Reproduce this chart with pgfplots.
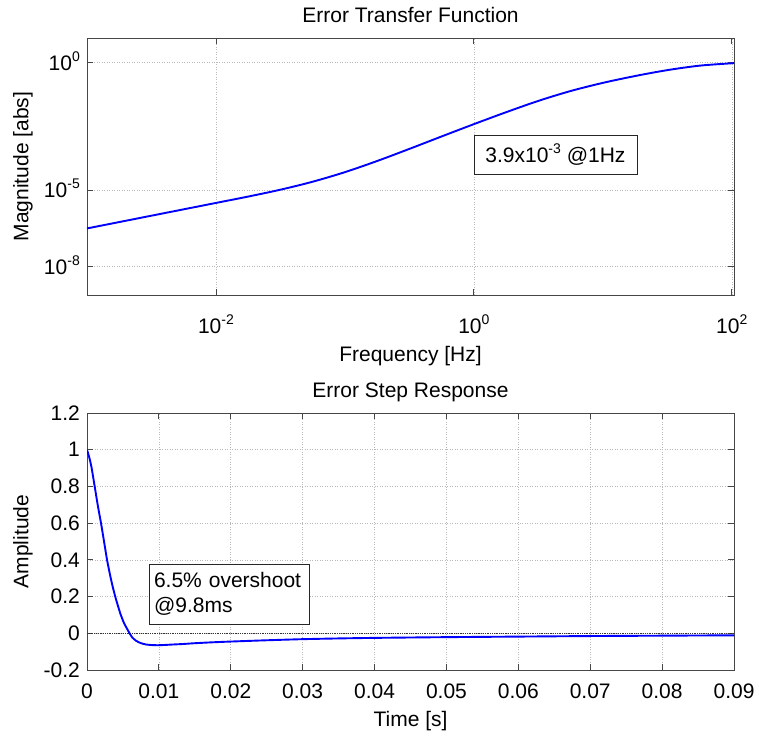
\documentclass[border=0pt]{standalone}
\usepackage{fontspec}
\setmainfont{Liberation Sans}
\usepackage{pgfplots}
\pgfplotsset{compat=1.18}
\definecolor{axgray}{RGB}{70,70,70}
\definecolor{gridgray}{RGB}{185,185,185}
\newcommand\sps[1]{\raisebox{0.42em}{\fontsize{14}{16}\selectfont #1}}

\pgfplotsset{
 matlab/.style={
  scale only axis, width=647pt, height=257pt,
  axis line style={axgray, line width=0.9pt},
  tick style={axgray, line width=0.9pt},
  major tick length=6pt,
  tick align=inside,
  tick pos=both,
  xticklabel pos=lower, yticklabel pos=left,
  grid=major,
  major grid style={gridgray, line width=0.6pt, dash pattern=on 1pt off 1.5pt},
  title style={at={(axis description cs:0.5,1.037)}, anchor=base},
  every axis y label/.style={at={(axis description cs:-0.0989,0.5)}, rotate=90, anchor=center},
 }
}

\begin{document}
\fontsize{21}{25}\selectfont
\begin{tikzpicture}
\begin{axis}[matlab, xmode=log, ymode=log,
  at={(87pt,-295pt)}, anchor=south west,
  xmin=1e-3, xmax=104, ymin=7.8e-10, ymax=9.3,
  xtick={1e-2,1,1e2}, xticklabels={10\sps{-2},10\sps{0},10\sps{2}},
  ytick={1e-8,1e-5,1}, yticklabels={10\sps{-8},10\sps{-5},10\sps{0}},
  xminorticks=false, yminorticks=false,
  xticklabel style={anchor=base, yshift=-38pt},
  yticklabel style={anchor=base east, yshift=-7.5pt},
  title={Error Transfer Function},
  xlabel={Frequency [Hz]}, ylabel={Magnitude [abs]},
  xlabel style={at={(axis description cs:0.5,-0.2595)}, anchor=base},
]
\addplot[blue, line width=1.9pt, smooth, tension=0.5] coordinates {
(0.001,3.177e-7) (0.001778,5.649e-7) (0.003162,1.005e-6) (0.005623,1.786e-6)
(0.01,3.177e-6) (0.01778,5.649e-6) (0.03162,1.050e-5) (0.05623,2.158e-5)
(0.1,5.117e-5) (0.1778,1.400e-4) (0.3162,4.178e-4) (0.5623,1.285e-3)
(1,3.9e-3) (1.778,0.01146) (3.162,0.03184) (5.623,0.07762)
(10,0.1618) (17.78,0.3006) (31.62,0.5117) (56.23,0.7656) (100,0.9506) (104,0.956)
};
\node[draw=black!85, line width=0.8pt, fill=white, minimum width=163pt, minimum height=39pt, inner sep=0pt]
  at (rel axis cs:0.724,0.547) {3.9x10\sps{-3} @1Hz};
\end{axis}

\begin{axis}[matlab,
  at={(87pt,-670pt)}, anchor=south west,
  xmin=0, xmax=0.09, ymin=-0.2, ymax=1.2,
  xtick={0,0.01,0.02,0.03,0.04,0.05,0.06,0.07,0.08,0.09},
  xticklabels={0,0.01,0.02,0.03,0.04,0.05,0.06,0.07,0.08,0.09},
  ytick={-0.2,0,0.2,0.4,0.6,0.8,1,1.2},
  yticklabels={-0.2,0,0.2,0.4,0.6,0.8,1,1.2},
  scaled x ticks=false,
  xticklabel style={anchor=base, yshift=-28pt},
  title={Error Step Response},
  xlabel={Time [s]}, ylabel={Amplitude},
  xlabel style={at={(axis description cs:0.5,-0.2206)}, anchor=base},
]
\addplot[black!80, line width=0.8pt, densely dotted] coordinates {(0,0) (0.09,0)};
\addplot[blue, line width=1.9pt, smooth, tension=0.4] coordinates {
(0,1.0) (0.0003,0.96) (0.0006,0.91) (0.00107,0.80) (0.00153,0.69)
(0.00195,0.60) (0.00233,0.51) (0.00279,0.40) (0.00325,0.31) (0.0036,0.25)
(0.00395,0.197) (0.0043,0.15) (0.00465,0.106) (0.0051,0.06) (0.00558,0.024)
(0.006,-0.005) (0.00628,-0.022) (0.0068,-0.040) (0.00744,-0.053) (0.0082,-0.061)
(0.0090,-0.064) (0.0098,-0.065) (0.0106,-0.064) (0.012,-0.061) (0.0135,-0.058)
(0.015,-0.054) (0.0175,-0.049) (0.02,-0.045) (0.025,-0.038) (0.03,-0.032)
(0.035,-0.028) (0.04,-0.025) (0.05,-0.021) (0.06,-0.018) (0.07,-0.015)
(0.08,-0.013) (0.09,-0.011)
};
\node[draw=black!85, line width=0.8pt, fill=white, minimum width=160pt, minimum height=60pt,
  text width=150pt, align=left, inner sep=5pt]
  at (rel axis cs:0.2195,0.2957) {6.5\% overshoot\\@9.8ms};
\end{axis}
\pgfresetboundingbox
\path[use as bounding box] (0pt,0pt) rectangle (759pt,-735pt);
\end{tikzpicture}
\end{document}
